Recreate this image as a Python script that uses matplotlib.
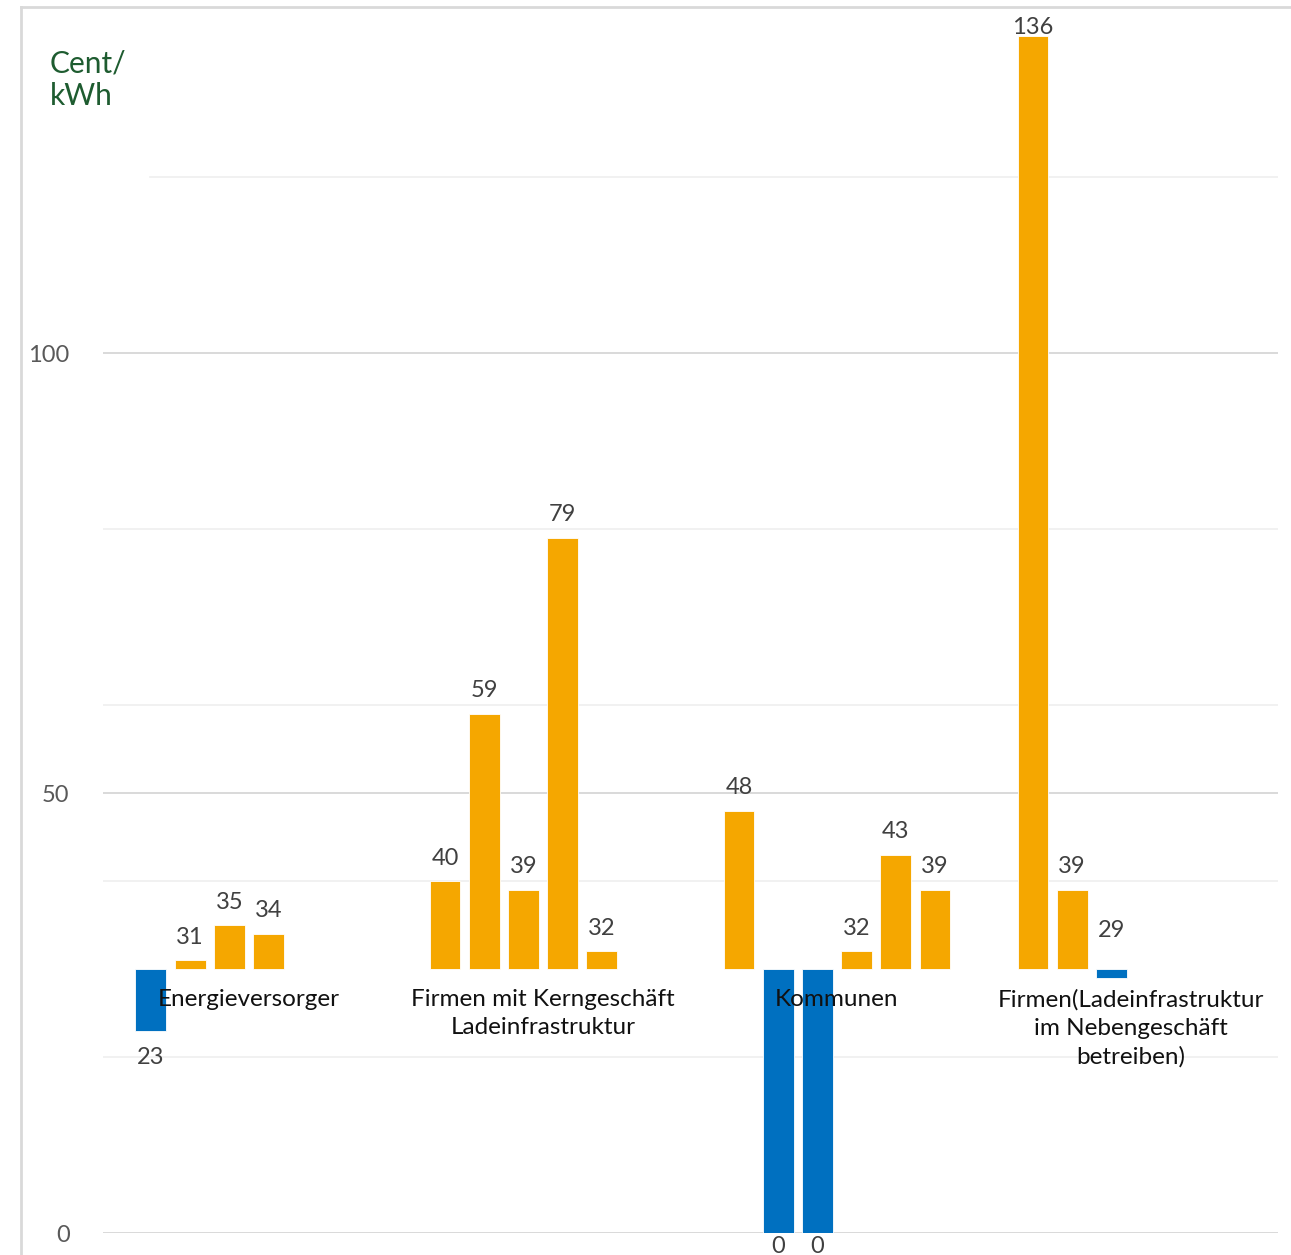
"""Strompreise je Betreibergruppe (Cent/kWh), Balken ab Basislinie 30."""

import matplotlib
matplotlib.use("Agg")
import matplotlib.pyplot as plt
from matplotlib.lines import Line2D
import numpy as np

plt.rcParams["font.family"] = ["Lato", "DejaVu Sans"]

categories = [
    "Energieversorger",
    "Firmen mit Kerngeschäft\nLadeinfrastruktur",
    "Kommunen",
    "Firmen(Ladeinfrastruktur\nim Nebengeschäft\nbetreiben)",
]

# one list per bar slot inside a group (nan = no bar)
series_1 = [23, 40, 48, 136]
series_2 = [31, 59, 0, 39]
series_3 = [35, 39, 0, 29]
series_4 = [34, 79, 32, np.nan]
series_5 = [np.nan, 32, 43, np.nan]
series_6 = [np.nan, np.nan, 39, np.nan]
all_series = [series_1, series_2, series_3, series_4, series_5, series_6]

baseline = 30
y_ticks = [0, 50, 100]
minor_grid = [20, 40, 60, 80, 120]

ORANGE = "#F5A700"
BLUE = "#0070C0"
FS = 17

fig = plt.figure(figsize=(12.91, 12.55), dpi=100)
ax = fig.add_axes([103 / 1291, 22 / 1255, 1175 / 1291, 1226 / 1255])
ax.set_xlim(-3.724, 26.25)
ymax = 139.32
ax.set_ylim(0, ymax)

for spine in ax.spines.values():
    spine.set_visible(False)
ax.tick_params(length=0)
ax.set_xticks([])
ax.set_yticks(y_ticks)
ax.set_yticklabels([str(t) for t in y_ticks], fontsize=FS, color="#595959")
ax.tick_params(axis="y", pad=24)

for g in minor_grid:
    xmin = 0.04 if g == 120 else 0.0
    ax.axhline(g, xmin=xmin, color="#efefef", lw=1.2, zorder=0)
for g in y_ticks:
    ax.axhline(g, color="#d9d9d9", lw=1.4, zorder=0)

group_step = 7.5
bar_w = 0.79
for s, vals in enumerate(all_series):
    for g, v in enumerate(vals):
        if np.isnan(v):
            continue
        x = g * group_step + (s - 2.5)
        below = v < baseline
        ax.bar(x, v - baseline, bottom=baseline, width=bar_w,
               color=BLUE if below else ORANGE, edgecolor="white",
               linewidth=0.6, zorder=2)
        lbl = dict(ha="center", fontsize=FS, color="#404040",
                   textcoords="offset points", annotation_clip=False)
        if below and v != 29:
            off = -2 if v == 0 else -12
            ax.annotate(f"{v:.0f}", (x, v), xytext=(0, off), va="top", **lbl)
        elif v > ymax - 6:
            # no room above: label sits just under the plot top
            ax.annotate(f"{v:.0f}", (x, ymax), xytext=(0, -7), va="top", **lbl)
        else:
            off = 20 if below else 9
            ax.annotate(f"{v:.0f}", (x, max(v, baseline)), xytext=(0, off),
                        va="bottom", **lbl)

for g, name in enumerate(categories):
    ax.text(g * group_step, 27.7, name, ha="center", va="top", fontsize=17.5,
            color="#111111", linespacing=1.42, zorder=3)

fig.text(50 / 1291, 1 - 49 / 1255, "Cent/\nkWh", ha="left", va="top",
         fontsize=21.5, color="#1E5C30", linespacing=1.2)

# thin frame (top and left edge) around the chart area
fig.add_artist(Line2D([21 / 1291, 1.01], [1 - 7 / 1255] * 2,
                      transform=fig.transFigure, color="#d9d9d9", lw=2))
fig.add_artist(Line2D([21 / 1291] * 2, [-0.01, 1 - 7 / 1255],
                      transform=fig.transFigure, color="#d9d9d9", lw=2))

fig.savefig("out.png", dpi=100)
